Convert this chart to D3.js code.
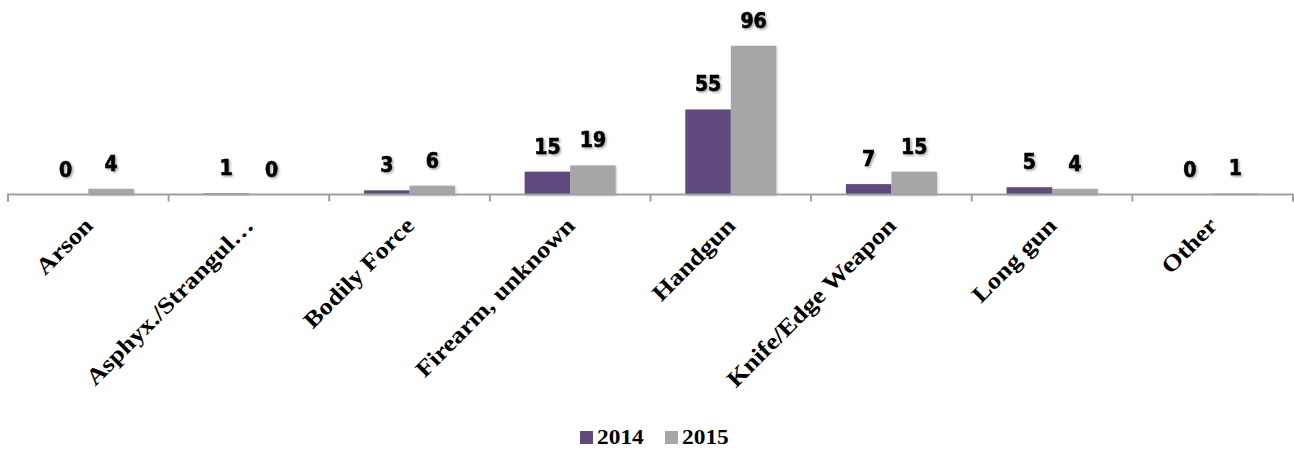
<!DOCTYPE html>
<html>
<head>
<meta charset="utf-8">
<script src="https://cdn.jsdelivr.net/npm/d3@7"></script>
<style>
  html, body { margin: 0; padding: 0; background: #fff; }
  svg { display: block; }
</style>
</head>
<body>
<svg id="chart" width="1294" height="451"></svg>
<script>
const categories = ["Arson", "Asphyx./Strangul…", "Bodily Force", "Firearm, unknown", "Handgun", "Knife/Edge Weapon", "Long gun", "Other"];
const seriesNames = ["2014", "2015"];
const values2014 = [0, 1, 3, 15, 55, 7, 5, 0];
const values2015 = [4, 0, 6, 19, 96, 15, 4, 1];
const seriesColors = ["#604A7B", "#A6A6A6"];
const yDomain = [0, 120];

(function () {
const series = [values2014, values2015];
const svg = d3.select("#chart");
const plotLeft = 8, plotRight = 1293, base = 195, plotTop = 8.4;

const defs = svg.append("defs");
const f = defs.append("filter").attr("id", "shadow").attr("x", "-20%").attr("y", "-20%").attr("width", "150%").attr("height", "150%");
f.append("feDropShadow").attr("dx", 1.5).attr("dy", 1.5).attr("stdDeviation", 1).attr("flood-color", "#000").attr("flood-opacity", 0.35);
const fb = defs.append("filter").attr("id", "barshadow").attr("x", "-20%").attr("y", "-20%").attr("width", "150%").attr("height", "150%");
fb.append("feDropShadow").attr("dx", 1).attr("dy", 1).attr("stdDeviation", 1).attr("flood-color", "#000").attr("flood-opacity", 0.2);

const x0 = d3.scaleBand().domain(categories).range([plotLeft, plotRight]).padding(0);
const x1 = d3.scaleBand().domain(seriesNames).range([0, x0.bandwidth()]).paddingInner(0).paddingOuter(0.765);
const y = d3.scaleLinear().domain(yDomain).range([base, plotTop]);

const groups = svg.append("g").selectAll("g").data(categories).join("g")
  .attr("transform", d => `translate(${x0(d)},0)`);
groups.selectAll("rect")
  .data((c, i) => seriesNames.map((s, j) => ({ s, j, v: series[j][i] })))
  .join("rect")
  .attr("x", d => x1(d.s))
  .attr("width", x1.bandwidth())
  .attr("y", d => y(d.v))
  .attr("height", d => base - y(d.v))
  .attr("fill", d => seriesColors[d.j])
  .attr("filter", "url(#barshadow)");

groups.selectAll("text.val")
  .data((c, i) => seriesNames.map((s, j) => ({ s, j, v: series[j][i] })))
  .join("text").attr("class", "val")
  .attr("x", d => x1(d.s) + x1.bandwidth() / 2)
  .attr("y", d => y(d.v) - 18)
  .attr("text-anchor", "middle")
  .attr("font-family", "'DejaVu Sans Condensed', 'DejaVu Sans', sans-serif")
  .style("font-stretch", "condensed")
  .attr("font-weight", "bold")
  .attr("font-size", 21)
  .attr("fill", "#000")
  .attr("stroke", "#000")
  .attr("stroke-width", 0.6)
  .attr("filter", "url(#shadow)")
  .text(d => d.v);

const axis = d3.axisBottom(x0).tickSize(7).tickFormat("");
const gx = svg.append("g").attr("transform", `translate(0,${base - 0.5})`).call(axis);
gx.select(".domain").attr("stroke", "#A0A0A0").attr("stroke-width", 2)
  .attr("d", `M${plotLeft},7V0H${plotRight}V7`);
gx.selectAll(".tick").remove();
const boundaries = d3.range(categories.length + 1).map(i => plotLeft + i * x0.step());
gx.selectAll("line.b").data(boundaries).join("line").attr("class", "b")
  .attr("x1", d => d).attr("x2", d => d).attr("y1", 0).attr("y2", 7)
  .attr("stroke", "#A0A0A0").attr("stroke-width", 2);

svg.append("g").selectAll("text").data(categories).join("text")
  .attr("transform", d => `translate(${x0(d) + x0.bandwidth() / 2 + 6},227) rotate(-45) scale(1.16,1)`)
  .attr("text-anchor", "end")
  .attr("font-family", "Liberation Serif, serif")
  .attr("font-weight", "bold")
  .attr("font-size", 23)
  .attr("fill", "#000")
  .text(d => d);

const legendX = [580, 665];
const lg = svg.append("g").selectAll("g").data(seriesNames).join("g")
  .attr("transform", (d, i) => `translate(${legendX[i]},431)`);
lg.append("rect").attr("width", 13).attr("height", 13).attr("fill", (d, i) => seriesColors[i]);
lg.append("text").attr("transform", "translate(17,13) scale(1.17,1)")
  .attr("font-family", "Liberation Serif, serif")
  .attr("font-weight", "bold")
  .attr("font-size", 20)
  .attr("fill", "#000")
  .text(d => d);
})();
</script>
</body>
</html>
